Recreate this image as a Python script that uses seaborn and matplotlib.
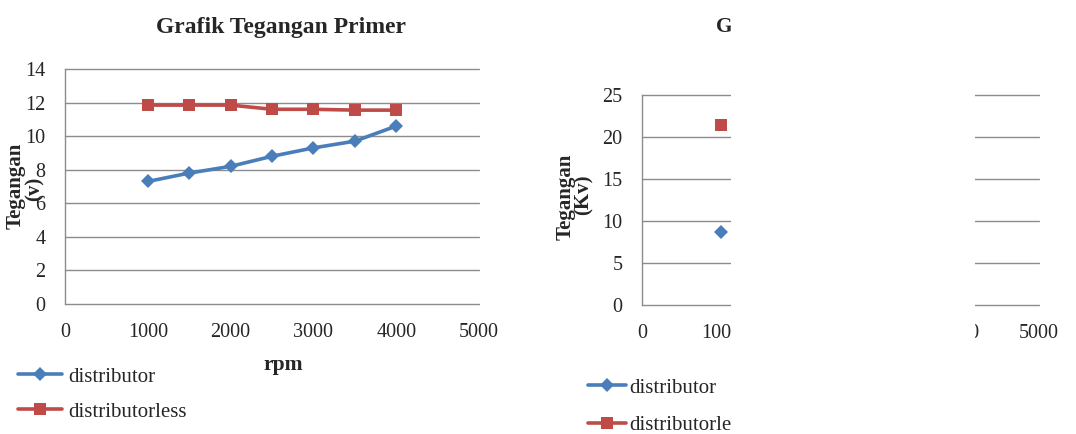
import matplotlib
matplotlib.use("Agg")
import matplotlib.pyplot as plt
import seaborn as sns
import pandas as pd
from matplotlib.patches import Rectangle
from matplotlib.lines import Line2D

# ---- data ----
rpm = [1000, 1500, 2000, 2500, 3000, 3500, 4000]
primer_distributor = [7.3, 7.8, 8.2, 8.8, 9.3, 9.7, 10.6]
primer_distributorless = [11.85, 11.85, 11.85, 11.6, 11.6, 11.55, 11.55]

# right chart: only the first point of each series is visible
sekunder_rpm = [1000]
sekunder_distributor = [8.65]
sekunder_distributorless = [21.4]

series_names = ["distributor", "distributorless"]
title_left = "Grafik Tegangan Primer"
title_right = "Grafik Tegangan Sekunder"
xticks = [0, 1000, 2000, 3000, 4000, 5000]
yticks_left = [0, 2, 4, 6, 8, 10, 12, 14]
yticks_right = [0, 5, 10, 15, 20, 25]

BLUE = "#4A7EBB"
RED = "#BE4B48"
GRID = "#8C8C8C"

sns.set_theme(style="white")
plt.rcParams["font.family"] = ["Liberation Serif", "DejaVu Serif"]

W, H = 1076, 434
fig = plt.figure(figsize=(W / 100, H / 100), dpi=100)

MK_D = dict(marker="D", markersize=7, markeredgewidth=0)
MK_S = dict(marker="s", markersize=8.5, markeredgewidth=0)


def px_axes(l, r, t, b):
    return fig.add_axes([l / W, 1 - b / H, (r - l) / W, (b - t) / H])


def style(ax, ymax, yticks):
    ax.set_xlim(0, 5000)
    ax.set_ylim(0, ymax)
    ax.set_xticks(xticks)
    ax.set_yticks(yticks)
    ax.grid(False)
    for y in yticks:
        ax.axhline(y, color=GRID, lw=1.0, zorder=0, clip_on=False)
    for s in ["top", "right", "bottom"]:
        ax.spines[s].set_visible(False)
    ax.spines["left"].set_color(GRID)
    ax.spines["left"].set_linewidth(1.0)
    ax.tick_params(axis="x", length=0, pad=14, labelsize=14.5)
    ax.tick_params(axis="y", length=0, pad=14, labelsize=14.5)
    ax.set_xlabel("")
    ax.set_ylabel("")


# ---- left chart ----
ax1 = px_axes(65, 479, 69, 304)
df1 = pd.DataFrame({"rpm": rpm * 2,
                    "v": primer_distributor + primer_distributorless,
                    "s": [series_names[0]] * len(rpm) + [series_names[1]] * len(rpm)})
sns.lineplot(data=df1[df1.s == series_names[0]], x="rpm", y="v", ax=ax1,
             color=BLUE, lw=2.6, legend=False, **MK_D)
sns.lineplot(data=df1[df1.s == series_names[1]], x="rpm", y="v", ax=ax1,
             color=RED, lw=2.6, legend=False, **MK_S)
style(ax1, 14, yticks_left)
fig.text(281 / W, 1 - 27 / H, title_left, ha="center", va="center",
         fontsize=17, fontweight="bold")
fig.text(283 / W, 1 - 365 / H, "rpm", ha="center", va="center",
         fontsize=15.5, fontweight="bold")
fig.text(16 / W, 1 - 186 / H, "Tegangan", rotation=90, ha="center", va="center",
         fontsize=15, fontweight="bold")
fig.text(35 / W, 1 - 189 / H, "(v)", rotation=90, ha="center", va="center",
         fontsize=15, fontweight="bold")

h1 = [Line2D([], [], color=BLUE, lw=2.6, **MK_D),
      Line2D([], [], color=RED, lw=2.6, **MK_S)]
ax1.legend(h1, series_names, loc="upper left", bbox_to_anchor=(18 / W, 1 - 367 / H),
           bbox_transform=fig.transFigure, frameon=False, fontsize=15,
           handlelength=2.1, handletextpad=0.3, labelspacing=0.75, borderpad=0,
           borderaxespad=0)

# ---- right chart ----
ax2 = px_axes(642, 1039, 95, 305)
sns.lineplot(x=sekunder_rpm, y=sekunder_distributor, ax=ax2, color=BLUE, lw=2.6,
             legend=False, **MK_D)
sns.lineplot(x=sekunder_rpm, y=sekunder_distributorless, ax=ax2, color=RED, lw=2.6,
             legend=False, **MK_S)
style(ax2, 25, yticks_right)
fig.text(716 / W, 1 - 27 / H, title_right, ha="left", va="center",
         fontsize=15.5, fontweight="bold")
fig.text(566 / W, 1 - 197 / H, "Tegangan", rotation=90, ha="center", va="center",
         fontsize=15, fontweight="bold")
fig.text(584 / W, 1 - 195 / H, "(Kv)", rotation=90, ha="center", va="center",
         fontsize=15, fontweight="bold")
h2 = [Line2D([], [], color=BLUE, lw=2.6, **MK_D),
      Line2D([], [], color=RED, lw=2.6, **MK_S)]
ax2.legend(h2, series_names, loc="upper left", bbox_to_anchor=(588 / W, 1 - 378 / H),
           bbox_transform=fig.transFigure, frameon=False, fontsize=15,
           handlelength=1.8, handletextpad=0.2, labelspacing=0.85, borderpad=0,
           borderaxespad=0)

# white block hiding the middle of the right chart (as in the reference)
fig.patches.append(Rectangle((731 / W, 0), (975 - 731) / W, 1,
                             transform=fig.transFigure, facecolor="white",
                             edgecolor="none", zorder=10))

fig.savefig("out.png", dpi=100)
